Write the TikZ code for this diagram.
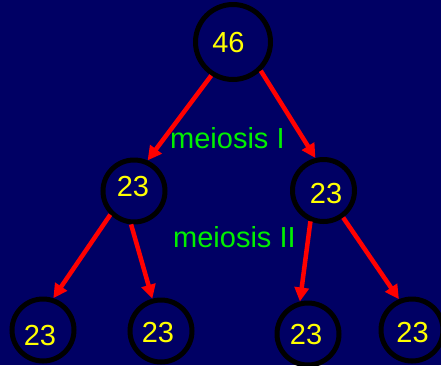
\documentclass[tikz,border=0pt]{standalone}
\usepackage{fontspec}
\setmainfont{Liberation Sans}
\usetikzlibrary{arrows.meta}
\definecolor{bg}{RGB}{0,0,100}
\definecolor{grn}{RGB}{0,240,0}
\definecolor{yel}{RGB}{255,255,0}
\definecolor{rd}{RGB}{255,0,0}
\begin{document}
\begin{tikzpicture}[x=1pt,y=-1pt,
  ring/.style={circle,draw=black,line width=5pt,minimum size=62pt,inner sep=0pt},
  bigring/.style={ring,minimum size=75pt},
  num/.style={text=yel,font=\fontsize{29}{29}\selectfont,inner sep=0pt},
  arr/.style={draw=rd,line width=4.5pt,-{Triangle[length=14pt,width=14pt]}},
  lbl/.style={text=grn,font=\fontsize{29}{29}\selectfont,inner sep=0pt}]
\fill[bg] (0,0) rectangle (441,365);
\useasboundingbox (0,0) rectangle (441,365);
\node[bigring] (top) at (233,42) {};
\node[num] (ttop) at (228.5,43) {46};
\node[ring] (ml) at (134,191) {};
\node[num] (tml) at (133,187) {23};
\node[ring] (mr) at (323.5,190.5) {};
\node[num] (tmr) at (326,193.5) {23};
\node[ring] (b1) at (43,330) {};
\node[num] (tb1) at (40,335.5) {23};
\node[ring] (b2) at (161,331) {};
\node[num] (tb2) at (158,333) {23};
\node[ring] (b3) at (308,334) {};
\node[num] (tb3) at (306,335) {23};
\node[ring] (b4) at (412,330) {};
\node[num] (tb4) at (412.5,332.5) {23};
\node[lbl,anchor=base west] (m1) at (170,148) {meiosis I};
\node[lbl,anchor=base west] (m2) at (173,247) {meiosis II};
\draw[arr] (top.237) -- (ml.66);
\draw[arr] (top.314) -- (mr.104);
\draw[arr] (ml.225) -- (b1.72);
\draw[arr] (ml.265) -- (b2.105);
\draw[arr] (mr.247) -- (b3.104);
\draw[arr] (mr.306) -- (b4.113);
\end{tikzpicture}
\end{document}
